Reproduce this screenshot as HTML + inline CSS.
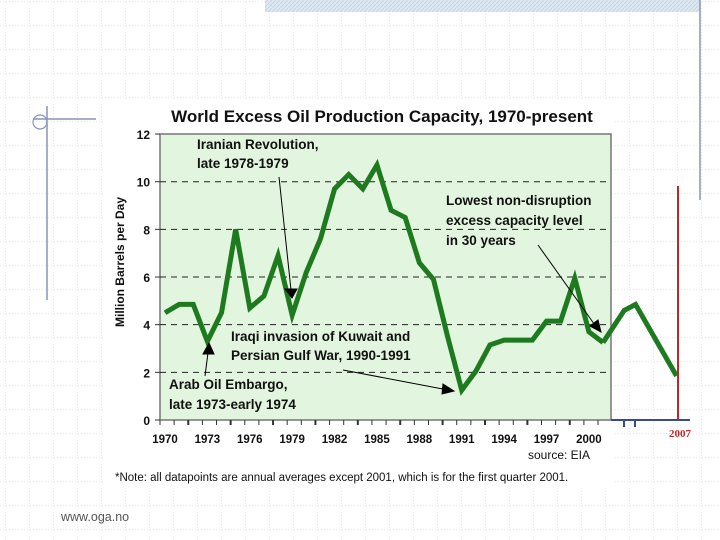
<!DOCTYPE html>
<html><head><meta charset="utf-8"><style>
body{margin:0;width:720px;height:540px;overflow:hidden;background:#fff;font-family:"Liberation Sans",sans-serif}
svg{display:block}
</style></head><body>
<svg id="c" width="720" height="540" xmlns="http://www.w3.org/2000/svg">
<defs>
<pattern id="grid" width="24" height="24" patternUnits="userSpaceOnUse" x="6" y="2">
<path d="M24 0V24M0 24H24" stroke="#cfcfcf" stroke-width="1" stroke-dasharray="1,2" fill="none"/>
</pattern>
<pattern id="hatch" width="4" height="4" patternUnits="userSpaceOnUse">
<rect width="4" height="4" fill="#dde9f2"/><path d="M0 4L4 0" stroke="#c4d6e6" stroke-width="1"/>
</pattern>
</defs>
<rect width="720" height="540" fill="url(#grid)"/>
<rect x="265" y="0" width="435" height="12" fill="url(#hatch)"/>
<line x1="700" y1="0" x2="700" y2="200" stroke="#8a94b8" stroke-width="1.5"/>
<rect x="105" y="100" width="510" height="390" fill="#fff"/>
<line x1="33" y1="119" x2="96" y2="119" stroke="#8a94b8" stroke-width="1.5"/>
<line x1="47" y1="106" x2="47" y2="300" stroke="#8a94b8" stroke-width="1.5"/>
<circle cx="40" cy="122" r="7" fill="none" stroke="#8a94b8" stroke-width="1.2"/>
<text x="382" y="122" text-anchor="middle" font-size="17" font-weight="bold" fill="#111">World Excess Oil Production Capacity, 1970-present</text>
<rect x="160" y="134" width="451" height="286" fill="#e2f5de" stroke="#777" stroke-width="1.5"/>
<g id="grids"></g>
<g id="axes"></g>
<text transform="translate(124,262) rotate(-90)" text-anchor="middle" font-size="12" font-weight="bold" fill="#111">Million Barrels per Day</text>
<polyline id="line" fill="none" stroke="#1e7a1e" stroke-width="5" stroke-linejoin="miter"/>
<polyline id="ext" fill="none" stroke="#1e7a1e" stroke-width="5"/>
<line x1="611" y1="420" x2="690" y2="420" stroke="#3a4a8a" stroke-width="2"/>
<line x1="624" y1="420" x2="624" y2="427" stroke="#3a4a8a" stroke-width="2"/>
<line x1="635" y1="420" x2="635" y2="427" stroke="#3a4a8a" stroke-width="2"/>
<line x1="678" y1="186" x2="678" y2="420" stroke="#c02828" stroke-width="2"/>
<text x="680" y="437" text-anchor="middle" font-size="11" font-weight="bold" font-family="Liberation Serif,serif" fill="#c02828">2007</text>
<g font-size="13.5" font-weight="bold" fill="#111">
<text x="197" y="149"><tspan x="197">Iranian Revolution,</tspan><tspan x="197" dy="19">late 1978-1979</tspan></text>
<text x="446" y="205"><tspan x="446">Lowest non-disruption</tspan><tspan x="446" dy="20">excess capacity level</tspan><tspan x="446" dy="20">in 30 years</tspan></text>
<text x="231" y="341"><tspan x="231">Iraqi invasion of Kuwait and</tspan><tspan x="231" dy="19">Persian Gulf War, 1990-1991</tspan></text>
<text x="169" y="389"><tspan x="169">Arab Oil Embargo,</tspan><tspan x="169" dy="20">late 1973-early 1974</tspan></text>
</g>
<g stroke="#000" stroke-width="1" fill="#000">
<line x1="279" y1="177" x2="291" y2="290"/>
<polygon points="285,289 297,289 292,298"/>
<line x1="538" y1="245" x2="597" y2="328"/>
<polygon points="590,326 598,320 601,332"/>
<line x1="343" y1="370" x2="448" y2="390"/>
<polygon points="443,384 454,391 442,394"/>
<line x1="205" y1="376" x2="209" y2="345"/>
<polygon points="203,354 214,354 209,343"/>
</g>
<text x="590" y="459" text-anchor="end" font-size="12" fill="#111">source: EIA</text>
<text x="115" y="481" font-size="11.5" fill="#111">*Note: all datapoints are annual averages except 2001, which is for the first quarter 2001.</text>
<text x="61" y="521" font-size="12.5" fill="#555">www.oga.no</text>
</svg>
<script>
const years=[1970,1971,1972,1973,1974,1975,1976,1977,1978,1979,1980,1981,1982,1983,1984,1985,1986,1987,1988,1989,1990,1991,1992,1993,1994,1995,1996,1997,1998,1999,2000,2001];
const values=[4.5,4.85,4.85,3.3,4.5,8.0,4.7,5.2,6.9,4.4,6.2,7.6,9.7,10.3,9.7,10.7,8.8,8.5,6.6,5.9,3.5,1.25,2.05,3.15,3.35,3.35,3.35,4.15,4.15,5.95,3.7,3.25];
const extYears=[2001,2002.5,2003.3,2006.2];
const extValues=[3.25,4.6,4.85,1.85];
const yTicks=[0,2,4,6,8,10,12];
const xTickLabels=[1970,1973,1976,1979,1982,1985,1988,1991,1994,1997,2000];
const X=y=>165+(y-1970)*14.13;
const Y=v=>420-v*23.83;
const ns="http://www.w3.org/2000/svg";
function mk(t,a,p){const e=document.createElementNS(ns,t);for(const k in a)e.setAttribute(k,a[k]);p.appendChild(e);return e;}
const g=document.getElementById('grids'),ax=document.getElementById('axes');
yTicks.forEach(v=>{
 if(v>0&&v<12){const l=mk('line',{x1:160,x2:611,y1:Y(v),y2:Y(v),stroke:'#222','stroke-dasharray':'6,5'},g);
 
 }
 const t=mk('text',{x:150,y:Y(v)+5,'text-anchor':'end','font-size':12,'font-weight':'bold',fill:'#111'},ax);
 t.textContent=v;
 
 
 const tk=mk('line',{x1:155,x2:160,y1:Y(v),y2:Y(v),stroke:'#333'},ax);
 
 
});
for(let y=1970;y<=2001;y++){
 const tk=mk('line',{x1:X(y)-5,x2:X(y)-5,y1:420,y2:425,stroke:'#333','stroke-width':y%3==1?2:1},ax);
 
 
}
xTickLabels.forEach(y=>{
 const t=mk('text',{x:X(y),y:443,'text-anchor':'middle','font-size':11.5,'font-weight':'bold',fill:'#111'},ax);
 t.textContent=y;
 
 
});
document.getElementById('line').setAttribute('points',years.map((y,i)=>X(y)+','+Y(values[i])).join(' '));
document.getElementById('ext').setAttribute('points',extYears.map((y,i)=>X(y)+','+Y(extValues[i])).join(' '));
</script>
</body></html>
